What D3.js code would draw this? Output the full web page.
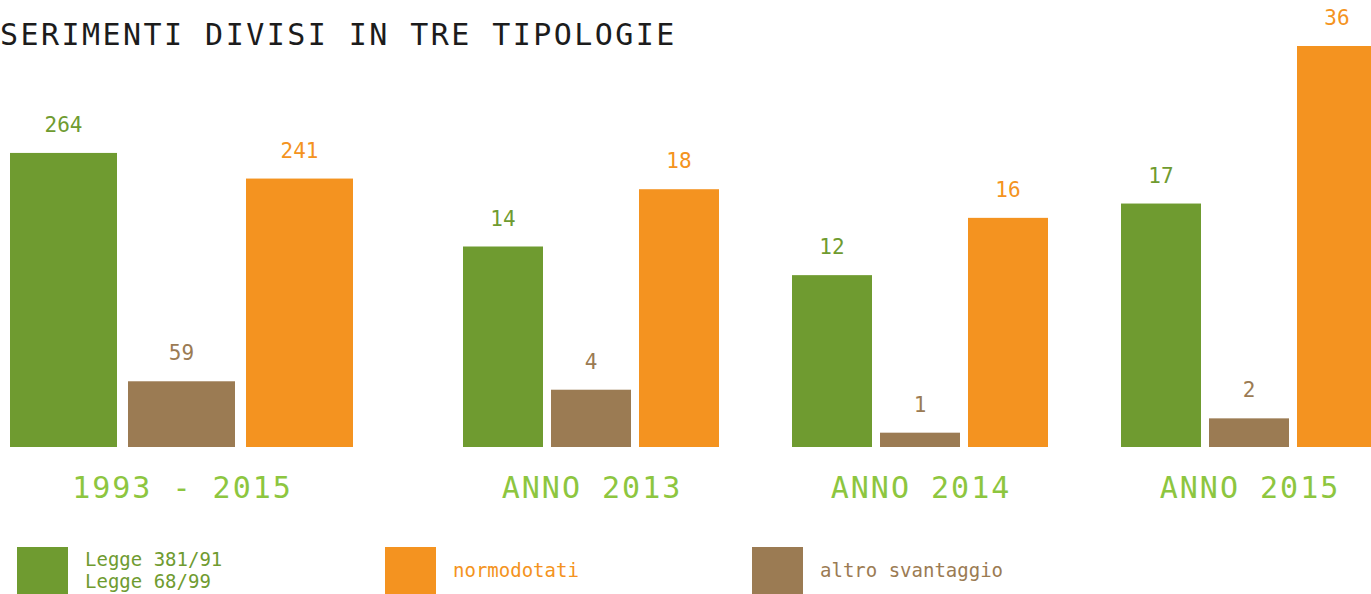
<!DOCTYPE html>
<html><head><meta charset="utf-8">
<script src="https://cdn.jsdelivr.net/npm/d3@7"></script>
<style>html,body{margin:0;padding:0;background:#fff;overflow:hidden}svg{display:block}</style>
</head><body><svg id="chart" width="1371" height="594"></svg>
<script>
// ---- data ----
const title = "SERIMENTI DIVISI IN TRE TIPOLOGIE";
const groups = ["1993 - 2015", "ANNO 2013", "ANNO 2014", "ANNO 2015"];
const seriesKeys = ["legge", "altro", "normo"];
const legge = [264, 14, 12, 17];   // Legge 381/91 - Legge 68/99
const altro = [59, 4, 1, 2];       // altro svantaggio
const normo = [241, 18, 16, 36];   // normodotati
const legendItems = [
  {key: "legge", lines: ["Legge 381/91", "Legge 68/99"]},
  {key: "normo", lines: ["normodotati"]},
  {key: "altro", lines: ["altro svantaggio"]}
];

// ---- style ----
const colors = {legge: "#6f9b30", altro: "#9b7b53", normo: "#f49320"};
const labelGreen = "#8dc63f";
const mono = "'DejaVu Sans Mono', 'Liberation Mono', monospace";

const svg = d3.select("#chart");
const baseline = 447, plotTop = 46;

// cumulative period and single years drawn on their own scales (as in the original)
const yTotal = d3.scaleLinear().domain([0, 360]).range([baseline, plotTop]);
const yYear = d3.scaleLinear().domain([0, 28]).range([baseline, plotTop]).clamp(true);

const xYear = d3.scaleBand().domain(groups.slice(1)).range([463, 1377])
  .paddingInner(73 / 329).paddingOuter(0);

const values = {legge, altro, normo};

groups.forEach((g, i) => {
  const first = i === 0;
  const x0 = first ? 10 : xYear(g);
  const w = first ? 343 : xYear.bandwidth();
  const y = first ? yTotal : yYear;
  const xi = d3.scaleBand().domain(seriesKeys).range([0, w])
    .paddingInner(first ? 11 / 118 : 8 / 88).paddingOuter(0);
  const gg = svg.append("g").attr("transform", `translate(${x0},0)`);
  const rows = seriesKeys.map(k => ({k, v: values[k][i]}));
  gg.selectAll("rect").data(rows).join("rect")
    .attr("x", d => xi(d.k)).attr("width", xi.bandwidth())
    .attr("y", d => y(d.v)).attr("height", d => baseline - y(d.v))
    .attr("fill", d => colors[d.k]);
  gg.selectAll("text.val").data(rows).join("text")
    .attr("class", "val")
    .attr("x", d => xi(d.k) + xi.bandwidth() / 2)
    .attr("y", d => y(d.v) - 21)
    .attr("text-anchor", "middle")
    .attr("font-family", mono).attr("font-size", 21)
    .attr("fill", d => colors[d.k])
    .text(d => d.v);
  gg.append("text")
    .attr("x", w / 2 + 1).attr("y", 498)
    .attr("text-anchor", "middle")
    .attr("font-family", mono).attr("font-size", 30)
    .attr("letter-spacing", 2)
    .attr("fill", labelGreen)
    .text(g);
});

// title
svg.append("text")
  .attr("x", 0).attr("y", 45)
  .attr("font-family", mono).attr("font-size", 30)
  .attr("letter-spacing", 2.45)
  .attr("fill", "#1c1c1c")
  .text(title);

// legend
const legendX = {legge: 17, normo: 385, altro: 752};
legendItems.forEach(it => {
  const lg = svg.append("g").attr("transform", `translate(${legendX[it.key]},547)`);
  lg.append("rect").attr("width", 51).attr("height", 60).attr("fill", colors[it.key]);
  const n = it.lines.length;
  it.lines.forEach((t, j) => {
    lg.append("text")
      .attr("x", 68)
      .attr("y", n === 1 ? 30 : 19 + j * 22)
      .attr("font-family", mono).attr("font-size", 19)
      .attr("fill", colors[it.key])
      .text(t);
  });
});
</script>
</body></html>
